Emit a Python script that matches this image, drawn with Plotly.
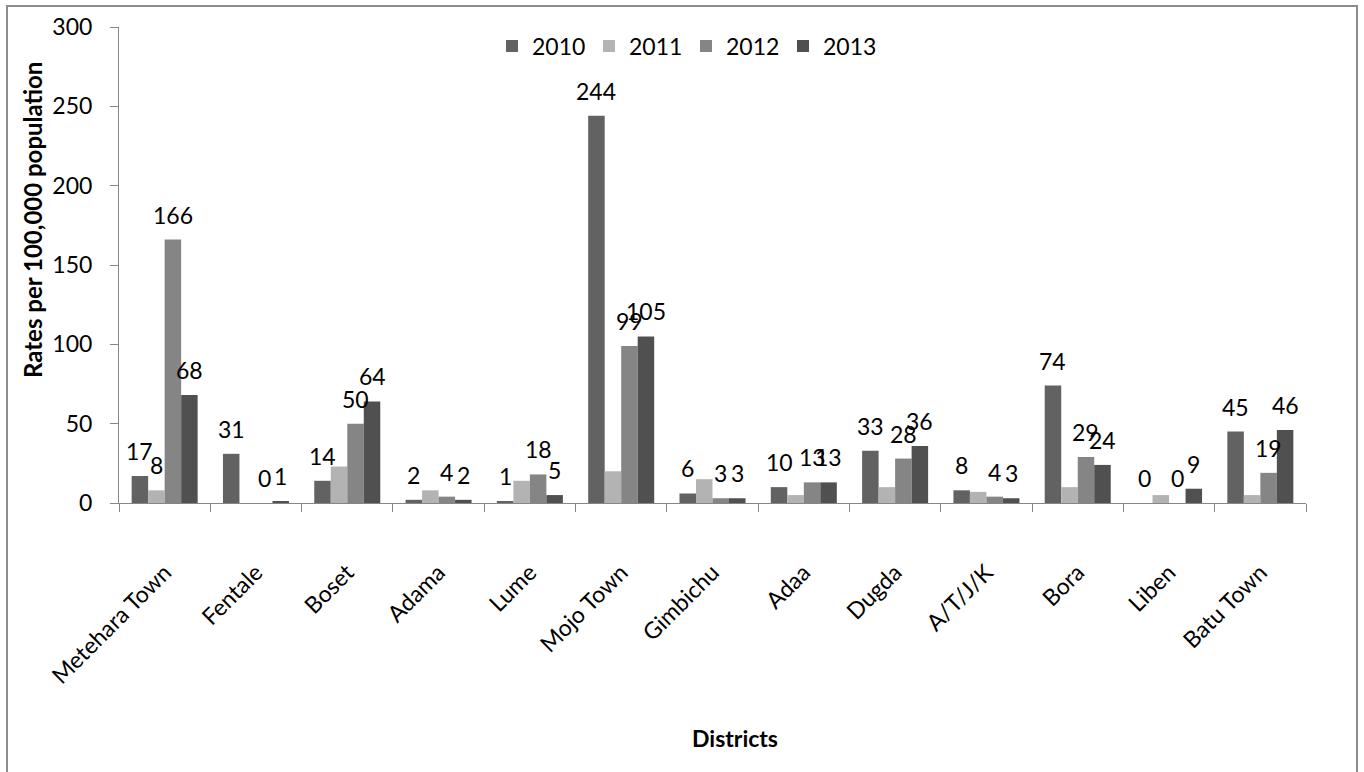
import plotly.graph_objects as go

# District notification rates per 100,000 population, 2010-2013
districts = ["Metehara Town", "Fentale", "Boset", "Adama", "Lume", "Mojo Town",
             "Gimbichu", "Adaa", "Dugda", "A/T/J/K", "Bora", "Liben", "Batu Town"]

rate_2010 = [17, 31, 14, 2, 1, 244, 6, 10, 33, 8, 74, 0, 45]
rate_2011 = [8, None, 23, 8, 14, 20, 15, 5, 10, 7, 10, 5, 5]
rate_2012 = [166, 0, 50, 4, 18, 99, 3, 13, 28, 4, 29, 0, 19]
rate_2013 = [68, 1, 64, 2, 5, 105, 3, 13, 36, 3, 24, 9, 46]

# only one 2011 value carries a printed label
labels_2011 = ["8", "", "", "", "", "", "", "", "", "", "", "", ""]

years = ["2010", "2011", "2012", "2013"]
series = [rate_2010, rate_2011, rate_2012, rate_2013]
colors = ["#626262", "#b3b3b3", "#858585", "#505050"]

FONT = "Lato"
FS = 23
W, H = 1364, 772
ML, MR, MT, MB = 119, 58, 27, 269
BARGAP = 0.277

fig = go.Figure()
for name, vals, col in zip(years, series, colors):
    fig.add_trace(go.Bar(
        name=name, x=districts, y=vals,
        marker=dict(color=col, line=dict(width=0)),
    ))

# data labels centred over each bar
plot_w = W - ML - MR
plot_h = H - MT - MB
bar_px = plot_w / len(districts) * (1 - BARGAP) / len(series)
annotations = []
for i, vals in enumerate(series):
    for j, v in enumerate(vals):
        if v is None:
            continue
        txt = labels_2011[j] if i == 1 else str(v)
        if not txt:
            continue
        annotations.append(dict(
            x=districts[j], y=v, xref="x", yref="y", text=txt,
            showarrow=False, xshift=(i - (len(series) - 1) / 2) * bar_px,
            yshift=25, yanchor="middle",
            font=dict(family=FONT, size=FS, color="#000000"),
        ))


def px_x(px):
    return (px - ML) / plot_w


def px_y(py):
    return (H - MB - py) / plot_h


annotations.append(dict(
    text="<b>Rates per 100,000 population</b>", textangle=-90,
    x=px_x(32), y=px_y(220), xref="paper", yref="paper",
    showarrow=False, xanchor="center", yanchor="middle",
    font=dict(family=FONT, size=24, color="#000000"),
))
annotations.append(dict(
    text="<b>Districts</b>",
    x=px_x(735), y=px_y(738), xref="paper", yref="paper",
    showarrow=False, xanchor="center", yanchor="middle",
    font=dict(family=FONT, size=23, color="#000000"),
))

fig.update_layout(
    width=W, height=H,
    margin=dict(l=ML, r=MR, t=MT, b=MB, pad=0),
    paper_bgcolor="white", plot_bgcolor="white",
    barmode="group", bargap=BARGAP, bargroupgap=0,
    font=dict(family=FONT, size=FS, color="#000000"),
    showlegend=True,
    legend=dict(
        orientation="h", x=px_x(686), y=px_y(46),
        xanchor="center", yanchor="middle",
        font=dict(family=FONT, size=FS, color="#000000"),
        bgcolor="rgba(0,0,0,0)", itemwidth=30,
        entrywidth=52, entrywidthmode="pixels",
    ),
    annotations=annotations,
    shapes=[dict(
        type="rect", xref="paper", yref="paper",
        x0=px_x(7), x1=px_x(1357), y0=px_y(790), y1=px_y(6),
        line=dict(color="#8c8c8c", width=2), layer="below",
    )],
)

fig.update_xaxes(
    type="category", showline=True, linecolor="#868686", linewidth=1,
    ticks="outside", tickson="boundaries", ticklen=8, tickcolor="#868686",
    tickangle=-45, ticklabelstandoff=46, showgrid=False, zeroline=False,
    tickfont=dict(family=FONT, size=FS, color="#000000"),
)
fig.update_yaxes(
    range=[0, 300], dtick=50, showline=True, linecolor="#868686", linewidth=1,
    ticks="outside", ticklen=8, tickcolor="#868686", ticklabelstandoff=13,
    showgrid=False, zeroline=False,
    tickfont=dict(family=FONT, size=FS, color="#000000"),
)

fig.write_html("out.html")
